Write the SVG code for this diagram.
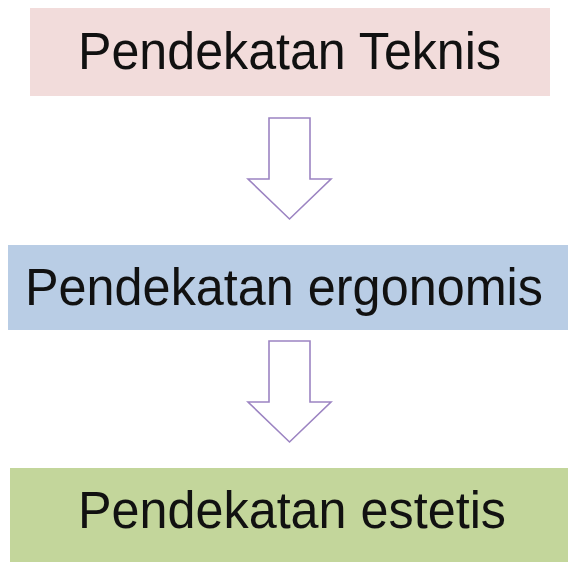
<svg xmlns="http://www.w3.org/2000/svg" width="568" height="562" viewBox="0 0 568 562">
<style>
text{font-family:"Liberation Sans",Arial,sans-serif;font-size:51px;fill:#111;}
.arr{fill:#fff;stroke:#9C84C2;stroke-width:1.6;stroke-linejoin:miter;}
</style>
<rect width="568" height="562" fill="#fff"/>
<g id="node-teknis">
<rect x="30" y="8" width="520" height="88" fill="#F2DCDB"/>
<text x="78" y="69" textLength="423" lengthAdjust="spacingAndGlyphs">Pendekatan Teknis</text>
</g>
<g id="node-ergonomis">
<rect x="8" y="245" width="560" height="85" fill="#B9CDE5"/>
<text x="25" y="305" textLength="518" lengthAdjust="spacingAndGlyphs">Pendekatan ergonomis</text>
</g>
<g id="node-estetis">
<rect x="10" y="468" width="558" height="94" fill="#C3D69B"/>
<text x="78" y="528" textLength="428" lengthAdjust="spacingAndGlyphs">Pendekatan estetis</text>
</g>
<g id="connectors">
<path class="arr" d="M269 118 H310 V179 H331 L289.5 219 L248 179 H269 Z"/>
<path class="arr" d="M269 341 H310 V402 H331 L289.5 442 L248 402 H269 Z"/>
</g>
</svg>
